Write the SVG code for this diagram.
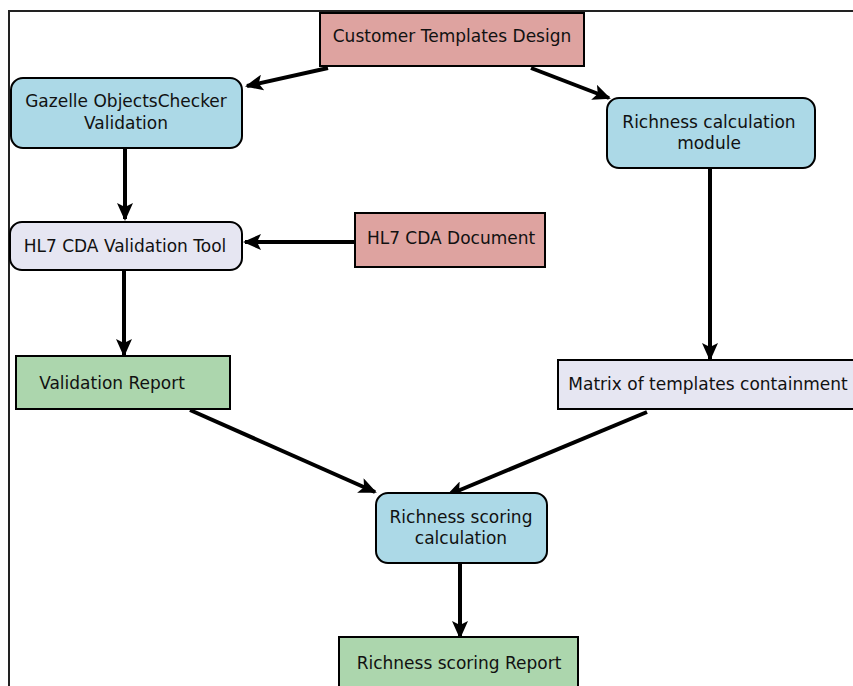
<svg xmlns="http://www.w3.org/2000/svg" width="853" height="686" viewBox="0 0 853 686">
<defs>
<style>
.n{stroke:#000;stroke-width:2}
.red{fill:#dea3a0}.blue{fill:#acd9e7}.lav{fill:#e6e6f2}.green{fill:#acd6ad}
text{font-family:"DejaVu Sans","Liberation Sans",sans-serif;font-size:17px;fill:#111;text-anchor:middle;dominant-baseline:central}
.e{stroke:#000;stroke-width:4;fill:none;marker-end:url(#ah)}
</style>
<marker id="ah" markerUnits="userSpaceOnUse" markerWidth="18" markerHeight="16" refX="16" refY="8" orient="auto">
<path d="M0,0 L18,8 L0,16 L4,8 Z" fill="#000"/>
</marker>
</defs>
<rect x="0" y="0" width="853" height="686" fill="#fff"/>
<path d="M9,686 V11 H853" fill="none" stroke="#222" stroke-width="2"/>
<g id="connectors">
<line class="e" x1="328" y1="68" x2="247" y2="86"/>
<line class="e" x1="531" y1="68" x2="609" y2="98"/>
<line class="e" x1="125" y1="149" x2="125" y2="219"/>
<line class="e" x1="355" y1="242" x2="245" y2="242"/>
<line class="e" x1="124" y1="271" x2="124" y2="355"/>
<line class="e" x1="710" y1="169" x2="710" y2="359"/>
<line class="e" x1="190" y1="410" x2="375" y2="492"/>
<line class="e" x1="647" y1="412" x2="448" y2="495"/>
<line class="e" x1="460" y1="564" x2="460" y2="637"/>
</g>
<g id="customer"><rect class="n red" x="320" y="13" width="264" height="53"/><text x="452" y="36">Customer Templates Design</text></g>
<g id="gazelle"><rect class="n blue" x="11" y="78" width="231" height="70" rx="12"/><text x="126" y="101">Gazelle ObjectsChecker</text><text x="126" y="123">Validation</text></g>
<g id="richness-module"><rect class="n blue" x="607" y="98" width="208" height="70" rx="12"/><text x="709" y="122">Richness calculation</text><text x="709" y="143">module</text></g>
<g id="hl7-tool"><rect class="n lav" x="10" y="222" width="232" height="48" rx="12"/><text x="125" y="246">HL7 CDA Validation Tool</text></g>
<g id="hl7-doc"><rect class="n red" x="355" y="213" width="190" height="54"/><text x="451" y="238">HL7 CDA Document</text></g>
<g id="validation-report"><rect class="n green" x="16" y="356" width="214" height="53"/><text x="112" y="383">Validation Report</text></g>
<g id="matrix"><rect class="n lav" x="558" y="360" width="300" height="49"/><text x="708" y="384">Matrix of templates containment</text></g>
<g id="scoring-calc"><rect class="n blue" x="376" y="493" width="171" height="70" rx="12"/><text x="461" y="517">Richness scoring</text><text x="461" y="538">calculation</text></g>
<g id="scoring-report"><rect class="n green" x="339" y="637" width="239" height="60"/><text x="459" y="663">Richness scoring Report</text></g>
</svg>
